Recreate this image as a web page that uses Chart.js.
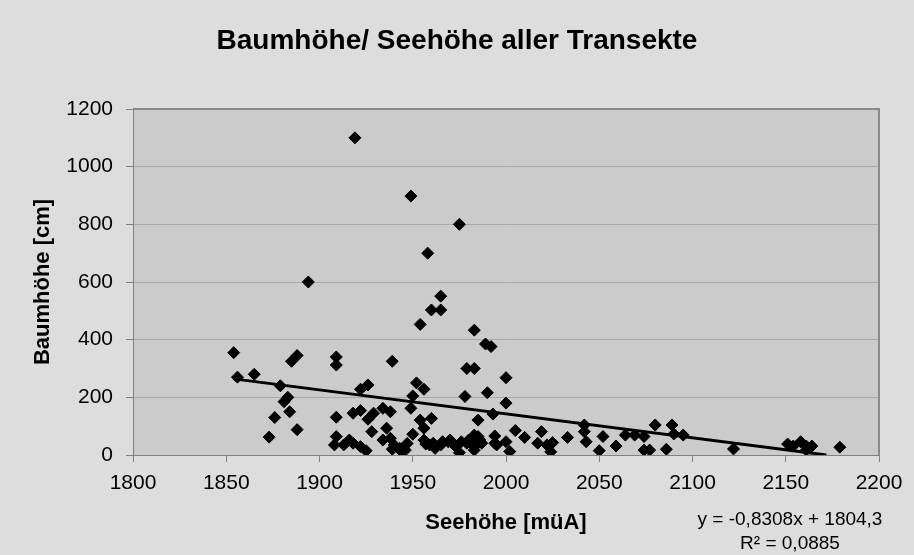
<!DOCTYPE html>
<html><head><meta charset="utf-8">
<script src="https://cdn.jsdelivr.net/npm/chart.js@4/dist/chart.umd.min.js"></script>
<style>html,body{margin:0;padding:0;background:#dddddd;overflow:hidden;}</style>
</head><body>
<canvas id="c" width="914" height="555"></canvas>
<script>
const chartTitle = "Baumhöhe/ Seehöhe aller Transekte";
const xTitle = "Seehöhe [müA]";
const yTitle = "Baumhöhe [cm]";
const seehoehe = [
 1854,1856,1865,1873,1876,1879,1881,1883,1884,1885,1888,1888,1894,
 1909,1909,1909,1909,1908,1913,1916,1918,1922,1925,1919,1918,1922,1922,1926,1926,1929,1928,
 1934,1938,1936,1934,1938,1940,1943,1944,1939,1939,
 1949,1950,1949,1952,1956,1954,1960,1956,1950,1956,1959,1962,1957,1961,1965,1966,1969,1970,1973,1975,1976,1979,1980,1982,1983,1983,1983,1985,1986,1987,1946,1947,
 1958,1975,1965,1960,1965,1954,1983,1989,1992,1979,1983,2000,1978,1990,2000,1985,1993,1994,1994,1995,2000,2002,
 2005,2010,2019,2017,2022,2025,2024,2033,2042,2042,2043,2050,2052,2059,2064,2069,2074,2080,2074,2077,2086,2089,2090,2095,
 2122,2151,2154,2158,2161,2164,2161,2179
];
const baumhoehe = [
 355,270,280,62,130,240,185,200,150,325,345,88,600,
 340,312,131,64,35,35,52,41,29,15,1100,145,154,228,243,124,145,81,
 162,150,93,52,58,35,23,12,20,325,
 898,205,162,250,228,121,127,93,72,52,35,23,38,41,35,46,46,52,29,8,46,41,52,58,69,29,17,64,52,41,17,40,
 700,800,551,503,503,453,433,385,376,300,300,268,203,216,180,121,142,66,41,35,46,12,
 85,61,81,41,35,43,11,61,104,81,46,15,64,31,69,69,64,104,17,17,20,104,73,69,
 21,38,31,46,31,31,17,27
];
const xTickMin = 1800, xTickMax = 2200, xTickStep = 50;
const yTickMin = 0, yTickMax = 1200, yTickStep = 200;
const trendSlope = -0.8308, trendIntercept = 1804.3;
const trendLabel = "y = -0,8308x + 1804,3";
const r2Label = "R² = 0,0885";

const points = seehoehe.map((x, i) => ({x, y: baumhoehe[i]}));
const tStart = Math.min(...seehoehe);
const tEnd = Math.min(Math.max(...seehoehe), -trendIntercept / trendSlope);
const trend = [tStart, tEnd].map(x => ({x, y: trendSlope * x + trendIntercept}));

const FONT = '"Liberation Sans", Arial, sans-serif';
Chart.defaults.font.family = FONT;
Chart.defaults.color = '#000';

const bgPlugin = {
  id: 'bg',
  beforeDraw(chart) {
    const {ctx, chartArea: a} = chart;
    ctx.save();
    ctx.fillStyle = '#dddddd';
    ctx.fillRect(0, 0, chart.width, chart.height);
    ctx.fillStyle = '#cbcbcb';
    ctx.fillRect(a.left, a.top, a.right - a.left, a.bottom - a.top);
    ctx.restore();
  },
  beforeDatasetsDraw(chart) {
    const {ctx, chartArea: a} = chart;
    ctx.save();
    ctx.strokeStyle = '#8a8a8a';
    ctx.lineWidth = 2;
    ctx.beginPath();
    ctx.moveTo(a.left, a.top); ctx.lineTo(a.right, a.top); ctx.lineTo(a.right, a.bottom);
    ctx.stroke();
    ctx.restore();
  },
  afterDraw(chart) {
    const {ctx} = chart;
    ctx.save();
    ctx.fillStyle = '#000';
    ctx.textAlign = 'center';
    ctx.textBaseline = 'middle';
    ctx.font = 'bold 28px ' + FONT;
    ctx.fillText(chartTitle, 457, 41);
    ctx.font = '19px ' + FONT;
    ctx.fillText(trendLabel, 790, 520);
    ctx.fillText(r2Label, 790, 544);
    ctx.restore();
  }
};

new Chart(document.getElementById('c'), {
  type: 'scatter',
  data: {
    datasets: [
      {
        data: points,
        pointStyle: 'rectRot',
        pointRadius: 6,
        pointBackgroundColor: '#000',
        pointBorderColor: '#000',
        pointBorderWidth: 1,
        showLine: false
      },
      {
        type: 'line',
        data: trend,
        borderColor: '#000',
        borderWidth: 3,
        pointRadius: 0,
        fill: false
      }
    ]
  },
  options: {
    responsive: false,
    animation: false,
    layout: {padding: {left: 0, right: 35, top: 109, bottom: 0}},
    plugins: {
      legend: {display: false},
      tooltip: {enabled: false},
      title: {display: false}
    },
    scales: {
      x: {
        type: 'linear',
        min: xTickMin, max: xTickMax,
        ticks: {stepSize: xTickStep, font: {size: 21}, color: '#000', padding: 9, maxRotation: 0,
                callback: v => String(v)},
        grid: {drawOnChartArea: false, drawTicks: true, tickLength: 7, tickColor: '#808080'},
        border: {color: '#808080', width: 1},
        title: {display: true, text: xTitle, font: {size: 22, weight: 'bold'}, color: '#000', padding: {top: 0, bottom: 19}},
        afterFit(s) { s.height = 100; }
      },
      y: {
        min: yTickMin, max: yTickMax,
        ticks: {stepSize: yTickStep, font: {size: 21}, color: '#000', padding: 13,
                callback: v => String(v)},
        grid: {color: '#a9a9a9', drawTicks: true, tickLength: 7, tickColor: '#808080'},
        border: {color: '#808080', width: 1},
        title: {display: true, text: yTitle, font: {size: 22, weight: 'bold'}, color: '#000', padding: {top: 30, bottom: 0}},
        afterFit(s) { s.width = 133; }
      }
    }
  },
  plugins: [bgPlugin]
});
</script>
</body></html>
